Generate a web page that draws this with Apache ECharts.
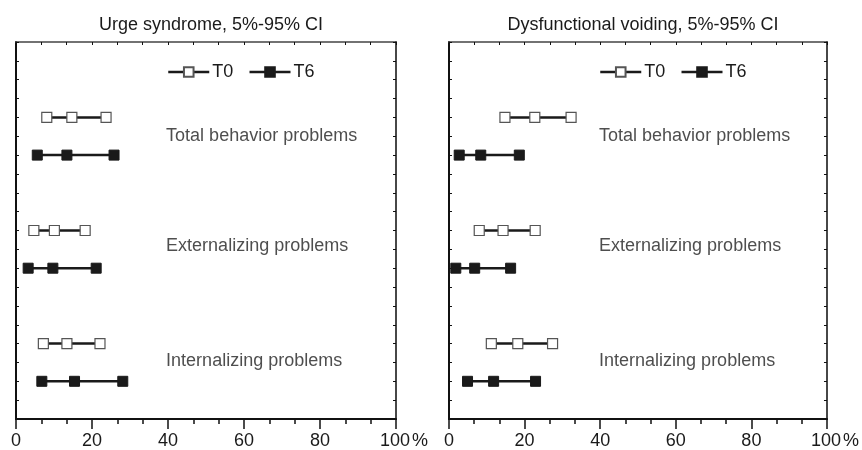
<!DOCTYPE html>
<html>
<head>
<meta charset="utf-8">
<script src="https://cdn.jsdelivr.net/npm/echarts@6/dist/echarts.min.js"></script>
<style>
  html, body { margin: 0; padding: 0; background: #fff; }
  #main { width: 862px; height: 450px; }
</style>
</head>
<body>
<div id="main"></div>
<script>
// panel titles and row names
var panelTitles = ["Urge syndrome, 5%-95% CI", "Dysfunctional voiding, 5%-95% CI"];
var rowNames = ["Total behavior problems", "Externalizing problems", "Internalizing problems"];

// row positions on the (inverted) y scale
var rowT0 = [4, 10, 16];
var rowT6 = [6, 12, 18];
var rowLabelY = [5, 10.8, 16.9];
var rowLabelX = [39.5, 39.7];

// 5%, mean, 95% per row (percent)
var urgeT0 = [[8.1, 14.7, 23.7], [4.7, 10.1, 18.2], [7.2, 13.4, 22.1]];
var urgeT6 = [[5.6, 13.4, 25.8], [3.2, 9.7, 21.1], [6.8, 15.4, 28.1]];
var dvT0 = [[14.8, 22.7, 32.3], [8.0, 14.3, 22.8], [11.2, 18.2, 27.4]];
var dvT6 = [[2.7, 8.4, 18.6], [1.8, 6.8, 16.3], [4.9, 11.8, 22.9]];

var panelData = [[urgeT0, urgeT6], [dvT0, dvT6]];

var font = "Liberation Sans, Arial, sans-serif";
var ink = "#1a1a1a";

var grids = [
    { left: 16, right: 466, top: 42, bottom: 29.5 },
    { left: 449, right: 35, top: 42, bottom: 29.5 }
];

var xAxes = [], yAxes = [], series = [];

for (var p = 0; p < 2; p++) {
    // bottom axis with labels
    xAxes.push({
        type: "value", gridIndex: p, position: "bottom",
        min: 0, max: 100, interval: 20,
        axisLine: { onZero: false, lineStyle: { color: "#111", width: 2 } },
        axisTick: { show: true, inside: false, length: 10, lineStyle: { color: "#111", width: 1.5 } },
        minorTick: { show: true, splitNumber: 3, length: 5, lineStyle: { color: "#111", width: 1.5 } },
        splitLine: { show: false },
        axisLabel: {
            margin: 13, fontSize: 18, color: ink, fontFamily: font,
            formatter: function (v) { return v === 100 ? "{pad|}100{pct|%}" : String(v); },
            rich: {
                pad: { width: 16 },
                pct: { fontSize: 18, fontFamily: font, color: ink, padding: [0, 0, 0, 2] }
            }
        }
    });
    // top frame axis
    xAxes.push({
        type: "value", gridIndex: p, position: "top",
        min: 0, max: 100, interval: 100 / 15,
        axisLine: { onZero: false, lineStyle: { color: "#444", width: 1.5 } },
        axisTick: { show: true, inside: true, length: 3, lineStyle: { color: "#111" } },
        axisLabel: { show: false },
        splitLine: { show: false }
    });
    yAxes.push({
        type: "value", gridIndex: p, position: "left", inverse: true,
        min: 0, max: 20, interval: 1,
        axisLine: { show: true, onZero: false, lineStyle: { color: "#111", width: 2 } },
        axisTick: { show: true, inside: true, length: 3, lineStyle: { color: "#111" } },
        axisLabel: { show: false },
        splitLine: { show: false }
    });
    yAxes.push({
        type: "value", gridIndex: p, position: "right", inverse: true,
        min: 0, max: 20, interval: 1,
        axisLine: { show: true, onZero: false, lineStyle: { color: "#333", width: 1.8 } },
        axisTick: { show: true, inside: true, length: 3, lineStyle: { color: "#111" } },
        axisLabel: { show: false },
        splitLine: { show: false }
    });

    for (var r = 0; r < rowNames.length; r++) {
        var t0 = panelData[p][0][r], t6 = panelData[p][1][r];
        series.push({
            name: "T0", type: "line", xAxisIndex: p * 2, yAxisIndex: p * 2,
            data: t0.map(function (v) { return [v, rowT0[r]]; }),
            symbol: "rect", symbolSize: 10, z: 3,
            lineStyle: { color: ink, width: 2.5 },
            itemStyle: { color: "#fff", borderColor: "#555", borderWidth: 1.2 }
        });
        series.push({
            name: "T6", type: "line", xAxisIndex: p * 2, yAxisIndex: p * 2,
            data: t6.map(function (v) { return [v, rowT6[r]]; }),
            symbol: "rect", symbolSize: 10, z: 3,
            lineStyle: { color: ink, width: 2.5 },
            itemStyle: { color: ink, borderColor: ink, borderWidth: 1 }
        });
    }
    // row names as text inside the plot
    series.push({
        name: "rows" + p, type: "scatter", xAxisIndex: p * 2, yAxisIndex: p * 2,
        symbolSize: 0, silent: true,
        data: rowNames.map(function (n, i) { return { value: [rowLabelX[p], rowLabelY[i]], name: n }; }),
        label: {
            show: true, position: "right", distance: 0,
            formatter: "{b}", fontSize: 18, color: "#222", fontFamily: font
        }
    });
}

function legendAt(x) {
    return {
        data: ["T0", "T6"], left: x, top: 63, padding: 0,
        itemWidth: 41, itemHeight: 12, itemGap: 15,
        lineStyle: { width: 2.5, color: ink },
        textStyle: { fontSize: 18, color: ink, fontFamily: font, padding: [0, 0, 0, -2] }
    };
}

var option = {
    backgroundColor: "#fff",
    animation: false,
    title: [
        { text: panelTitles[0], left: 206, top: 11, textAlign: "center",
          textStyle: { fontSize: 18, fontWeight: "normal", color: ink, fontFamily: font } },
        { text: panelTitles[1], left: 638, top: 11, textAlign: "center",
          textStyle: { fontSize: 18, fontWeight: "normal", color: ink, fontFamily: font } }
    ],
    legend: [legendAt(167), legendAt(599)],
    grid: grids,
    xAxis: xAxes,
    yAxis: yAxes,
    series: series
};

var chart = echarts.init(document.getElementById("main"));
chart.setOption(option);
</script>
</body>
</html>
